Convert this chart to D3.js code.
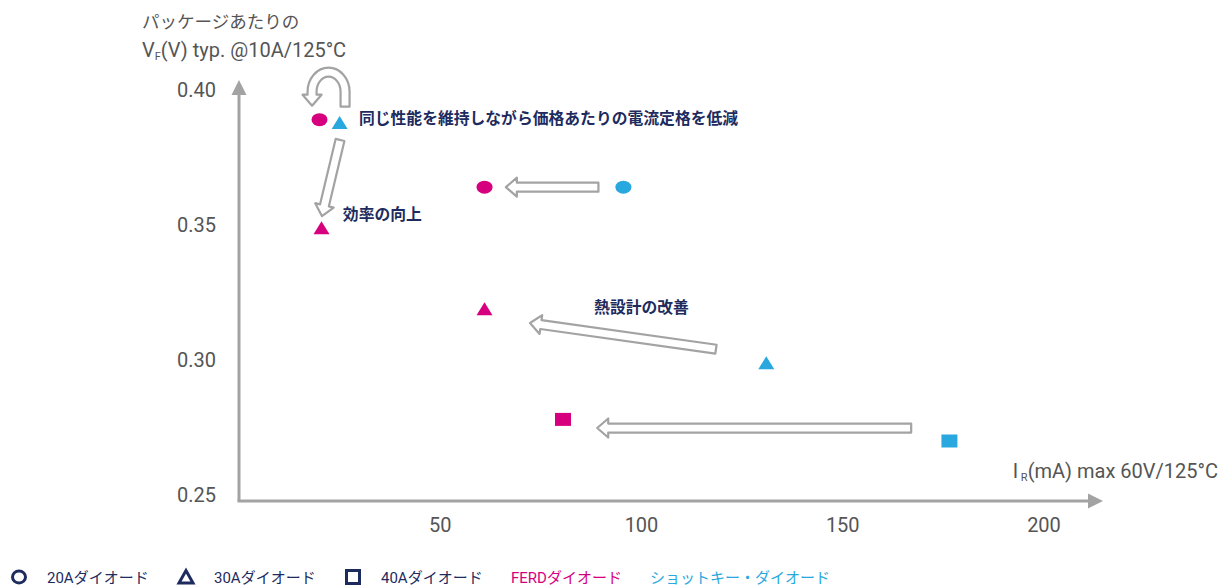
<!DOCTYPE html>
<html>
<head>
<meta charset="utf-8">
<script src="https://cdn.jsdelivr.net/npm/d3@7"></script>
<style>
  body { margin: 0; background: #fff; }
  svg { display: block; }
</style>
</head>
<body>
<div id="chart"></div>
<script>
// data
const irValues = [20, 25, 61, 95.5, 20.5, 61, 131, 80.5, 176.5];
const vfValues = [0.389, 0.388, 0.364, 0.364, 0.349, 0.319, 0.299, 0.278, 0.270];
const ratings = ["20A", "30A", "20A", "20A", "30A", "30A", "30A", "40A", "40A"];
const types = ["FERD", "Schottky", "FERD", "Schottky", "FERD", "FERD", "Schottky", "FERD", "Schottky"];

const xTicks = [50, 100, 150, 200];
const yTicks = [0.25, 0.30, 0.35, 0.40];

const shapeLegend = [
    { rating: "20A", label: "20Aダイオード" },
    { rating: "30A", label: "30Aダイオード" },
    { rating: "40A", label: "40Aダイオード" }
];
const typeLegend = [
    { type: "FERD", label: "FERDダイオード" },
    { type: "Schottky", label: "ショットキー・ダイオード" }
];

// annotation arrows in data units [ir1, vf1, ir2, vf2]
const arrows = [
    [25.1, 0.3815, 20.6, 0.3533],
    [89.3, 0.364, 66.3, 0.364],
    [118.5, 0.304, 72.3, 0.3137],
    [167, 0.2748, 89, 0.2748]
];
const notes = [
    { text: "同じ性能を維持しながら価格あたりの電流定格を低減", ir: 29.8, vf: 0.3895, anchor: "start" },
    { text: "効率の向上", ir: 25.8, vf: 0.354, anchor: "start" },
    { text: "熱設計の改善", ir: 100, vf: 0.3196, anchor: "middle" }
];

const width = 1225;
const height = 586;
const colors = { FERD: "#d6007f", Schottky: "#29a8e0" };
const navy = "#1d2b5e";
const axisGray = "#a3a3a3";
const latin = "Roboto, 'Noto Sans CJK JP', sans-serif";

const svg = d3.select("#chart").append("svg")
    .attr("width", width)
    .attr("height", height);

const x = d3.scaleLinear().domain([0, 200]).range([239, 1044]);
const y = d3.scaleLinear().domain([0.25, 0.40]).range([495, 90]);

const axisY = y(0.25) + 6;

// axes with arrow heads
svg.append("line")
    .attr("x1", x(0)).attr("x2", x(0))
    .attr("y1", axisY).attr("y2", 92)
    .attr("stroke", axisGray).attr("stroke-width", 3);
svg.append("path")
    .attr("d", `M${x(0) - 7.5},${95} L${x(0)},${80} L${x(0) + 7.5},${95} Z`)
    .attr("fill", axisGray);
svg.append("line")
    .attr("x1", x(0) - 1.5).attr("x2", 1090)
    .attr("y1", axisY).attr("y2", axisY)
    .attr("stroke", axisGray).attr("stroke-width", 3);
svg.append("path")
    .attr("d", `M1088,${axisY - 7.5} L1103,${axisY} L1088,${axisY + 7.5} Z`)
    .attr("fill", axisGray);

// tick labels
svg.append("g").selectAll("text")
    .data(yTicks).enter().append("text")
    .attr("x", 216)
    .attr("y", d => y(d) + 7)
    .attr("text-anchor", "end")
    .attr("font-family", "Roboto, sans-serif")
    .attr("font-size", 20)
    .attr("fill", "#555")
    .text(d => d.toFixed(2));

svg.append("g").selectAll("text")
    .data(xTicks).enter().append("text")
    .attr("x", d => x(d))
    .attr("y", 532)
    .attr("text-anchor", "middle")
    .attr("font-family", "Roboto, sans-serif")
    .attr("font-size", 20)
    .attr("fill", "#555")
    .text(d => d);

// axis titles
svg.append("text")
    .attr("x", 142).attr("y", 28)
    .attr("font-family", "'Noto Sans CJK JP', sans-serif")
    .attr("font-size", 17.5)
    .attr("fill", "#555")
    .text("パッケージあたりの");

const vTitle = svg.append("text")
    .attr("x", 142).attr("y", 57)
    .attr("font-family", latin)
    .attr("font-size", 20)
    .attr("fill", "#555");
vTitle.append("tspan").text("V");
vTitle.append("tspan").attr("font-size", 11).attr("dy", 3).text("F");
vTitle.append("tspan").attr("dy", -3).text("(V) typ. @10A/125°C");

const iTitle = svg.append("text")
    .attr("x", 1218).attr("y", 478)
    .attr("text-anchor", "end")
    .attr("font-family", latin)
    .attr("font-size", 20)
    .attr("fill", "#555");
iTitle.append("tspan").text("I");
iTitle.append("tspan").attr("font-size", 11).attr("dy", 3).text(" R");
iTitle.append("tspan").attr("dy", -3).text("(mA) max 60V/125°C");

// block arrow helper
function blockArrow(x1, y1, x2, y2, sw, hw, hl) {
    const dx = x2 - x1, dy = y2 - y1;
    const len = Math.hypot(dx, dy);
    const c = dx / len, s = dy / len;
    const pts = [
        [0, -sw / 2], [len - hl, -sw / 2], [len - hl, -hw / 2], [len, 0],
        [len - hl, hw / 2], [len - hl, sw / 2], [0, sw / 2]
    ].map(([u, v]) => [x1 + u * c - v * s, y1 + u * s + v * c]);
    return "M" + pts.map(p => p.join(",")).join("L") + "Z";
}

svg.append("g").selectAll("path")
    .data(arrows).enter().append("path")
    .attr("d", d => blockArrow(x(d[0]), y(d[1]), x(d[2]), y(d[3]), 9, 19, 11))
    .attr("fill", "#fff")
    .attr("stroke", axisGray)
    .attr("stroke-width", 2.2)
    .attr("stroke-linejoin", "round");

// U-turn arrow above the first pair of points
const ux = (x(irValues[0]) + x(irValues[1])) / 2;
const uy = y(vfValues[0]) - 28;
svg.append("path")
    .attr("d", `M${ux + 11},${uy + 15} L${ux + 20},${uy + 15} L${ux + 20},${uy}
        A21,24 0 0 0 ${ux - 22},${uy} L${ux - 22},${uy + 3} L${ux - 27},${uy + 3}
        L${ux - 17.5},${uy + 14} L${ux - 8},${uy + 3} L${ux - 13},${uy + 3}
        L${ux - 13},${uy} A12,15 0 0 1 ${ux + 11},${uy} Z`)
    .attr("fill", "#fff")
    .attr("stroke", axisGray)
    .attr("stroke-width", 2.2)
    .attr("stroke-linejoin", "round");

// annotations
svg.append("g").selectAll("text")
    .data(notes).enter().append("text")
    .attr("x", d => x(d.ir))
    .attr("y", d => y(d.vf) + 6)
    .attr("text-anchor", d => d.anchor)
    .attr("font-family", "'Noto Sans CJK JP', sans-serif")
    .attr("font-size", 15.8)
    .attr("font-weight", 700)
    .attr("fill", navy)
    .text(d => d.text);

// points
const pts = irValues.map((ir, i) => ({ ir: ir, vf: vfValues[i], rating: ratings[i], type: types[i] }));

function shapePath(rating) {
    if (rating === "20A") return "M-8,0 A8,6.5 0 1 0 8,0 A8,6.5 0 1 0 -8,0 Z";
    if (rating === "30A") return "M-8,6.5 L0,-6.5 L8,6.5 Z";
    return "M-8,-6.5 L8,-6.5 L8,6.5 L-8,6.5 Z";
}

svg.append("g").selectAll("path")
    .data(pts).enter().append("path")
    .attr("transform", d => `translate(${x(d.ir)},${y(d.vf)})`)
    .attr("d", d => shapePath(d.rating))
    .attr("fill", d => colors[d.type]);

// legend
const legendShapes = [
    "M-6.5,0 A6.5,6 0 1 0 6.5,0 A6.5,6 0 1 0 -6.5,0 Z",
    "M-7,6 L0,-6.5 L7,6 Z",
    "M-6.5,-6.5 L6.5,-6.5 L6.5,6.5 L-6.5,6.5 Z"
];
const lg = svg.append("g");
lg.selectAll("path")
    .data(shapeLegend).enter().append("path")
    .attr("transform", (d, i) => `translate(${19 + i * 167},577)`)
    .attr("d", (d, i) => legendShapes[i])
    .attr("fill", "none")
    .attr("stroke", navy)
    .attr("stroke-width", 3);
lg.selectAll("text.shape")
    .data(shapeLegend).enter().append("text")
    .attr("class", "shape")
    .attr("x", (d, i) => 47 + i * 167)
    .attr("y", 583)
    .attr("font-family", latin)
    .attr("font-size", 15)
    .attr("fill", navy)
    .text(d => d.label);
lg.selectAll("text.type")
    .data(typeLegend).enter().append("text")
    .attr("class", "type")
    .attr("x", (d, i) => i === 0 ? 511 : 650)
    .attr("y", 583)
    .attr("font-family", latin)
    .attr("font-size", 15)
    .attr("fill", d => colors[d.type])
    .text(d => d.label);
</script>
</body>
</html>
